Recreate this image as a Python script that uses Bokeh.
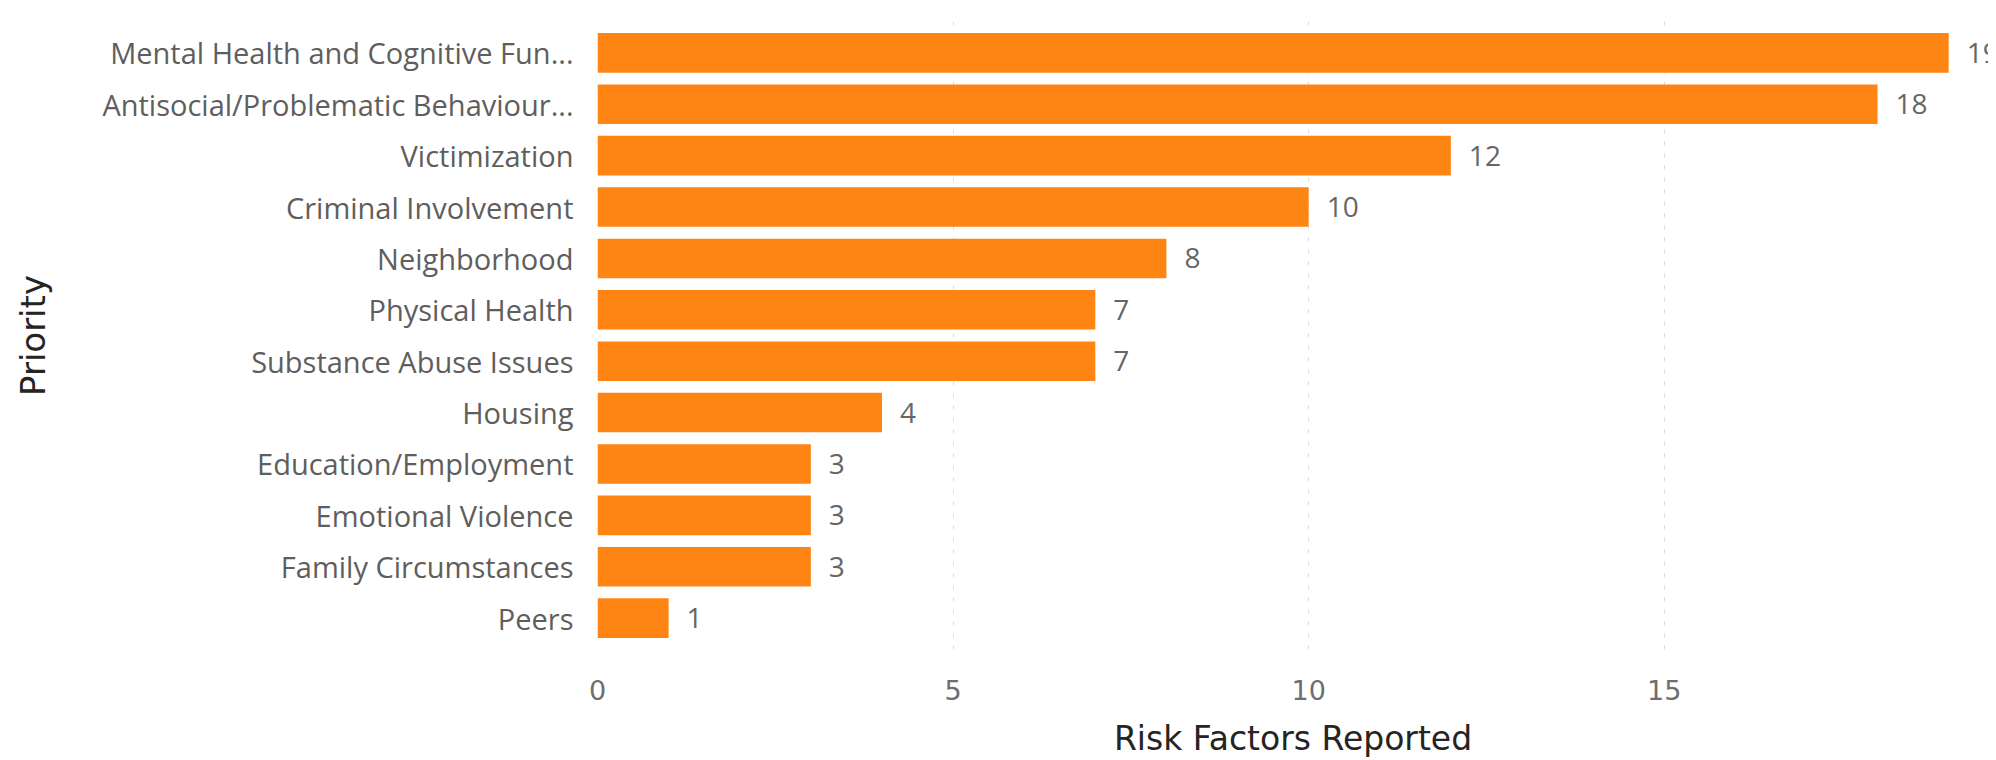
from bokeh.plotting import figure
from bokeh.models import Range1d, FactorRange, ColumnDataSource
from bokeh.core.properties import value
from bokeh.embed import file_html
from bokeh.resources import INLINE

categories = [
    "Mental Health and Cognitive Fun...",
    "Antisocial/Problematic Behaviour...",
    "Victimization",
    "Criminal Involvement",
    "Neighborhood",
    "Physical Health",
    "Substance Abuse Issues",
    "Housing",
    "Education/Employment",
    "Emotional Violence",
    "Family Circumstances",
    "Peers",
]
values = [19, 18, 12, 10, 8, 7, 7, 4, 3, 3, 3, 1]
x_ticks = [0, 5, 10, 15]

BAR = "#FE8414"
LABEL_FONT = "Open Sans"
TITLE_FONT = "DejaVu Sans"

src = ColumnDataSource(dict(cat=categories, val=values, lab=[str(v) for v in values]))

p = figure(
    width=1988, height=760,
    x_range=Range1d(0, 19.56),
    y_range=FactorRange(factors=list(reversed(categories)), range_padding=0.11,
                        range_padding_units="absolute"),
    output_backend="svg", toolbar_location=None,
    min_border_left=597, min_border_right=0, min_border_top=21, min_border_bottom=106,
)
p.outline_line_color = None
p.background_fill_color = "white"
p.border_fill_color = "white"

p.hbar(y="cat", right="val", left=0, height=0.77, source=src, color=BAR, line_color=None)
p.text(x="val", y="cat", text="lab", source=src, x_offset=18,
       text_align="left", text_baseline="middle",
       text_font=value(LABEL_FONT), text_font_size="28px", text_color="#666666")

# x axis
xa = p.xaxis[0]
xa.ticker = x_ticks
xa.axis_label = "Risk Factors Reported"
xa.axis_label_text_font = TITLE_FONT
xa.axis_label_text_font_size = "33px"
xa.axis_label_text_font_style = "normal"
xa.axis_label_text_color = "#252423"
xa.axis_label_standoff = 16
xa.major_label_text_font = TITLE_FONT
xa.major_label_text_font_size = "27px"
xa.major_label_text_color = "#6E6E6E"
xa.major_label_standoff = 24
xa.axis_line_color = None
xa.major_tick_line_color = None
xa.minor_tick_line_color = None

# y axis
ya = p.yaxis[0]
ya.axis_label = "Priority"
ya.axis_label_text_font = TITLE_FONT
ya.axis_label_text_font_size = "34px"
ya.axis_label_text_font_style = "normal"
ya.axis_label_text_color = "#252423"
ya.axis_label_standoff = 46
ya.major_label_text_font = LABEL_FONT
ya.major_label_text_font_size = "29px"
ya.major_label_text_color = "#605E5C"
ya.major_label_standoff = 18
ya.axis_line_color = None
ya.major_tick_line_color = None
ya.minor_tick_line_color = None

p.xgrid.grid_line_color = "#DCDCDC"
p.xgrid.grid_line_dash = "4 8"
p.xgrid.grid_line_width = 1
p.ygrid.grid_line_color = None

open("out.html", "w").write(file_html(p, INLINE))
